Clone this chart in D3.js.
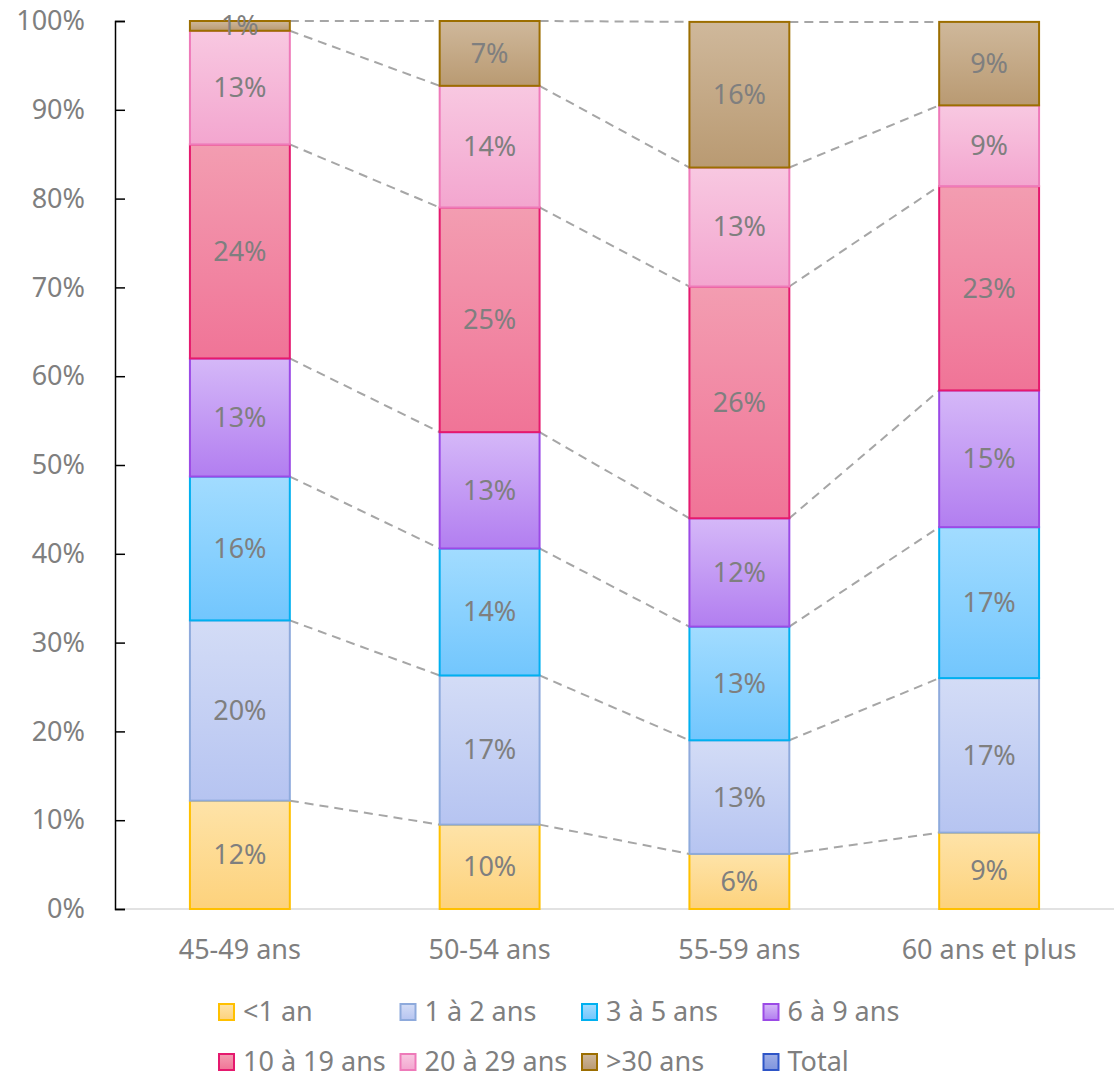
<!DOCTYPE html>
<html>
<head>
<meta charset="utf-8">
<script src="https://cdn.jsdelivr.net/npm/d3@7"></script>
<style>
  body { margin: 0; background: #fff; }
  text { font-family: "Noto Sans", "Open Sans", sans-serif; fill: #7f7f7f; }
</style>
</head>
<body>
<div class="chart"></div>
<script>
// categories and series (shares in %)
var categories = ["45-49 ans", "50-54 ans", "55-59 ans", "60 ans et plus"];
var seriesNames = ["<1 an", "1 à 2 ans", "3 à 5 ans", "6 à 9 ans", "10 à 19 ans", "20 à 29 ans", ">30 ans"];
var lt1 = [12.2, 9.5, 6.2, 8.6];
var y1to2 = [20.3, 16.8, 12.8, 17.4];
var y3to5 = [16.2, 14.3, 12.8, 17.0];
var y6to9 = [13.3, 13.1, 12.2, 15.4];
var y10to19 = [24.1, 25.3, 26.1, 23.0];
var y20to29 = [12.8, 13.7, 13.4, 9.1];
var gt30 = [1.1, 7.3, 16.4, 9.4];
var legendNames = seriesNames.concat(["Total"]);
var yTicks = [0, 10, 20, 30, 40, 50, 60, 70, 80, 90, 100];

var seriesValues = [lt1, y1to2, y3to5, y6to9, y10to19, y20to29, gt30];

// colours: [top of gradient, bottom of gradient, border]
var colors = [
  ["#fee3a8", "#fdd27c", "#ffc000"],
  ["#d3dcf6", "#b6c4f1", "#8eaadc"],
  ["#a2dcff", "#72c6fd", "#00b0f0"],
  ["#d5b8f8", "#b27ef0", "#9b4ae6"],
  ["#f39db1", "#f07497", "#e5196e"],
  ["#f8c8e1", "#f3a6cf", "#ee7ab9"],
  ["#cfb89b", "#b99a72", "#9c6e00"],
  ["#9eaee6", "#7f95de", "#2e55c7"]
];

var margin = {top: 21, right: 0, bottom: 171, left: 115},
    width = 1114 - margin.left - margin.right,
    height = 1080 - margin.top - margin.bottom;
var fontSize = "27px";

// build stacked table
var table = categories.map(function(c, i) {
  var row = {cat: c};
  seriesNames.forEach(function(s, j) { row[s] = seriesValues[j][i]; });
  return row;
});
var stacked = d3.stack().keys(seriesNames)(table);

var xScale = d3.scaleBand()
    .domain(categories)
    .range([0, width])
    .paddingInner(0.6)
    .paddingOuter(0.3);

var yScale = d3.scaleLinear()
    .domain([0, 100])
    .range([height, 0]);

var svg = d3.select(".chart").append("svg")
    .attr("width", 1114)
    .attr("height", 1080);

var defs = svg.append("defs");
colors.forEach(function(c, i) {
  var gr = defs.append("linearGradient")
      .attr("id", "grad" + i)
      .attr("x1", 0).attr("y1", 0).attr("x2", 0).attr("y2", 1);
  gr.append("stop").attr("offset", "0%").attr("stop-color", c[0]);
  gr.append("stop").attr("offset", "100%").attr("stop-color", c[1]);
});

var g = svg.append("g")
    .attr("transform", "translate(" + margin.left + "," + margin.top + ")");

// x axis line (light grey)
g.append("line")
    .attr("x1", 0).attr("x2", width)
    .attr("y1", height).attr("y2", height)
    .style("stroke", "#d9d9d9")
    .style("stroke-width", 1.5);

// category labels
g.selectAll(".xlabel")
    .data(categories)
  .enter().append("text")
    .attr("class", "xlabel")
    .attr("x", function(d) { return xScale(d) + xScale.bandwidth() / 2; })
    .attr("y", height + 41)
    .attr("dy", "0.35em")
    .attr("text-anchor", "middle")
    .style("font-size", fontSize)
    .text(function(d) { return d; });

// y axis, ticks pointing into the plot
var yAxis = g.append("g")
    .call(d3.axisLeft(yScale)
      .tickValues(yTicks)
      .tickSize(-10)
      .tickPadding(30)
      .tickFormat(function(d) { return d + "%"; }));
yAxis.select(".domain").attr("stroke", "#000").attr("stroke-width", 1.5);
yAxis.selectAll(".tick line").attr("stroke", "#000").attr("stroke-width", 1.5);
yAxis.selectAll(".tick text")
    .style("font-size", fontSize)
    .style("font-family", "'Noto Sans', sans-serif")
    .attr("fill", "#7f7f7f");

// dashed series lines between bars
stacked.forEach(function(layer) {
  for (var i = 0; i < categories.length - 1; i++) {
    var a = layer[i], b = layer[i + 1];
    g.append("line")
        .attr("x1", xScale(categories[i]) + xScale.bandwidth())
        .attr("y1", yScale(a[1]))
        .attr("x2", xScale(categories[i + 1]))
        .attr("y2", yScale(b[1]))
        .style("stroke", "#a6a6a6")
        .style("stroke-width", 2)
        .style("stroke-dasharray", "9 6");
  }
});

// bars
var layers = g.selectAll(".layer")
    .data(stacked)
  .enter().append("g")
    .attr("class", "layer");

layers.selectAll("rect")
    .data(function(d) { return d.map(function(p) { return {p: p, idx: d.index}; }); })
  .enter().append("rect")
    .attr("x", function(d) { return xScale(d.p.data.cat); })
    .attr("y", function(d) { return yScale(d.p[1]); })
    .attr("width", xScale.bandwidth())
    .attr("height", function(d) { return yScale(d.p[0]) - yScale(d.p[1]); })
    .style("fill", function(d) { return "url(#grad" + d.idx + ")"; })
    .style("stroke", function(d) { return colors[d.idx][2]; })
    .style("stroke-width", 2);

// data labels
layers.selectAll(".lbl")
    .data(function(d) { return d; })
  .enter().append("text")
    .attr("class", "lbl")
    .attr("x", function(d) { return xScale(d.data.cat) + xScale.bandwidth() / 2; })
    .attr("y", function(d) { return yScale((d[0] + d[1]) / 2); })
    .attr("dy", "0.35em")
    .attr("text-anchor", "middle")
    .style("font-size", fontSize)
    .text(function(d) { return Math.round(d[1] - d[0]) + "%"; });

// legend
var legend = svg.append("g");
legendNames.forEach(function(name, i) {
  var row = i < 4 ? 0 : 1, col = i % 4;
  var lx = 219 + col * 181.5;
  var ly = 1012 + row * 50;
  legend.append("rect")
      .attr("x", lx).attr("y", ly - 8)
      .attr("width", 15).attr("height", 16)
      .style("fill", "url(#grad" + i + ")")
      .style("stroke", colors[i][2])
      .style("stroke-width", 2);
  legend.append("text")
      .attr("x", lx + 24).attr("y", ly)
      .attr("dy", "0.35em")
      .style("font-size", fontSize)
      .text(name);
});
</script>
</body>
</html>
